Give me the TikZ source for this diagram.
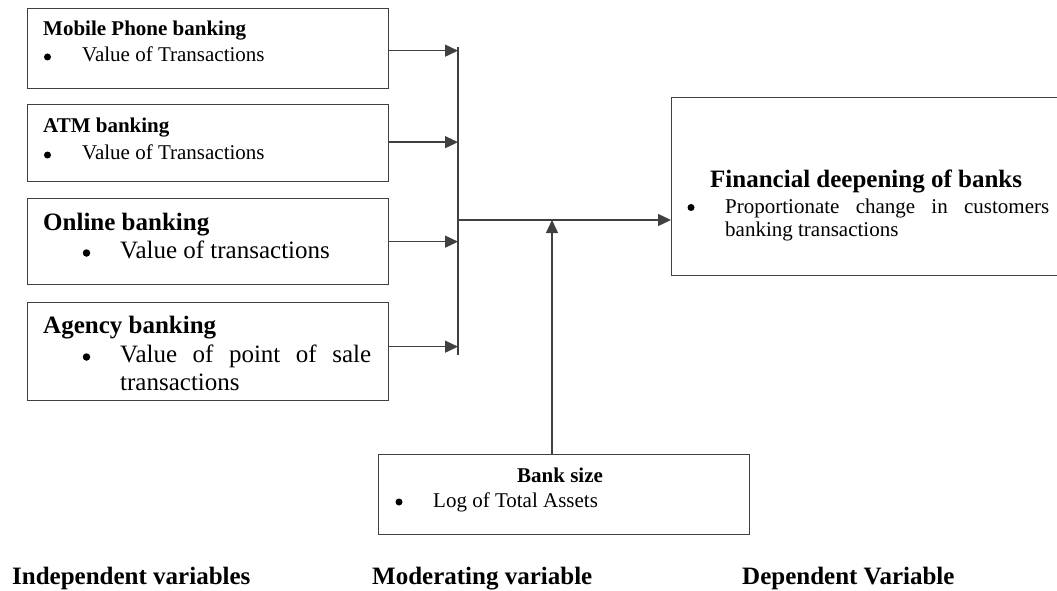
\documentclass[tikz,border=0pt]{standalone}
\usepackage{fontspec}
\setmainfont{Liberation Serif}
\usetikzlibrary{arrows.meta}
\definecolor{linegray}{HTML}{404040}
\tikzset{
  box/.style={draw=linegray, line width=1.3pt, anchor=north west, inner sep=0pt},
  txt/.style={anchor=base west, inner sep=0pt, text=black},
  small/.style={txt, font=\fontsize{21}{24}\selectfont},
  smallb/.style={txt, font=\fontsize{21}{24}\selectfont\bfseries},
  big/.style={txt, font=\fontsize{25}{28}\selectfont},
  bigb/.style={txt, font=\fontsize{25}{28}\selectfont\bfseries},
  dot/.style={circle, fill=black, inner sep=0pt, minimum size=7pt},
  bigdot/.style={dot, minimum size=7.5pt},
  conn/.style={draw=linegray, line width=1.3pt},
  arr/.style={conn, -{Triangle[length=13pt,width=12pt]}}
}
\begin{document}
\begin{tikzpicture}[x=1pt,y=-1pt]
\useasboundingbox (0,0) rectangle (1057,591);
% boxes
\node[box, minimum width=361pt, minimum height=80pt] (b1) at (27,8) {};
\node[box, minimum width=361pt, minimum height=77pt] (b2) at (27,104) {};
\node[box, minimum width=361pt, minimum height=86pt] (b3) at (27,198) {};
\node[box, minimum width=361pt, minimum height=98pt] (b4) at (27,302) {};
\node[box, minimum width=392pt, minimum height=178pt] (fd) at (671,97) {};
\node[box, minimum width=371pt, minimum height=80pt] (bs) at (378,454) {};
% box 1
\node[smallb] (t1) at (43,36) {Mobile Phone banking};
\node[dot] (u1) at (47.5,57) {};
\node[small] (v1) at (82,62) {Value of Transactions};
% box 2
\node[smallb] (t2) at (43,132) {ATM banking};
\node[dot] (u2) at (47.5,155) {};
\node[small] (v2) at (82,160) {Value of Transactions};
% box 3
\node[bigb] (t3) at (43,230) {Online banking};
\node[bigdot] (u3) at (86.5,253) {};
\node[big] (v3) at (120,258) {Value of transactions};
% box 4
\node[bigb] (t4) at (43,333) {Agency banking};
\node[bigdot] (u4) at (86.5,357) {};
\node[big] (v4) at (120,362) {\makebox[251pt][s]{Value of point of sale}};
\node[big] (w4) at (120,390) {transactions};
% dependent box
\node[bigb] (tf) at (710,187) {Financial deepening of banks};
\node[dot] (uf) at (691,207.5) {};
\node[small] (vf) at (725,213) {\makebox[324pt][s]{Proportionate change in customers}};
\node[small] (wf) at (725,236) {banking transactions};
% moderating box
\node[smallb] (tb) at (517,482) {Bank size};
\node[dot] (ub) at (399,502) {};
\node[small] (vb) at (433,507) {Log of Total Assets};
% bottom labels
\node[bigb] (l1) at (12,584) {Independent variables};
\node[bigb] (l2) at (372,584) {Moderating variable};
\node[bigb] (l3) at (742,584) {Dependent Variable};
% connectors
\coordinate (bt) at (458,47);
\coordinate (bb) at (458,355);
\coordinate (j) at (457,220);
\coordinate (m) at (552,220);
\draw[conn] (bt) -- (bb);
\draw[arr] ([yshift=-2pt]b1.east) -- ([yshift=-2pt]b1.east -| bt);
\draw[arr] ([yshift=1pt]b2.east) -- ([yshift=1pt]b2.east -| bt);
\draw[arr] (b3.east) -- (b3.east -| bt);
\draw[arr] ([yshift=5pt]b4.east) -- ([yshift=5pt]b4.east -| bt);
\draw[arr] (j) -- (j -| fd.west);
\draw[arr] (m |- bs.north) -- (m);
\end{tikzpicture}
\end{document}
